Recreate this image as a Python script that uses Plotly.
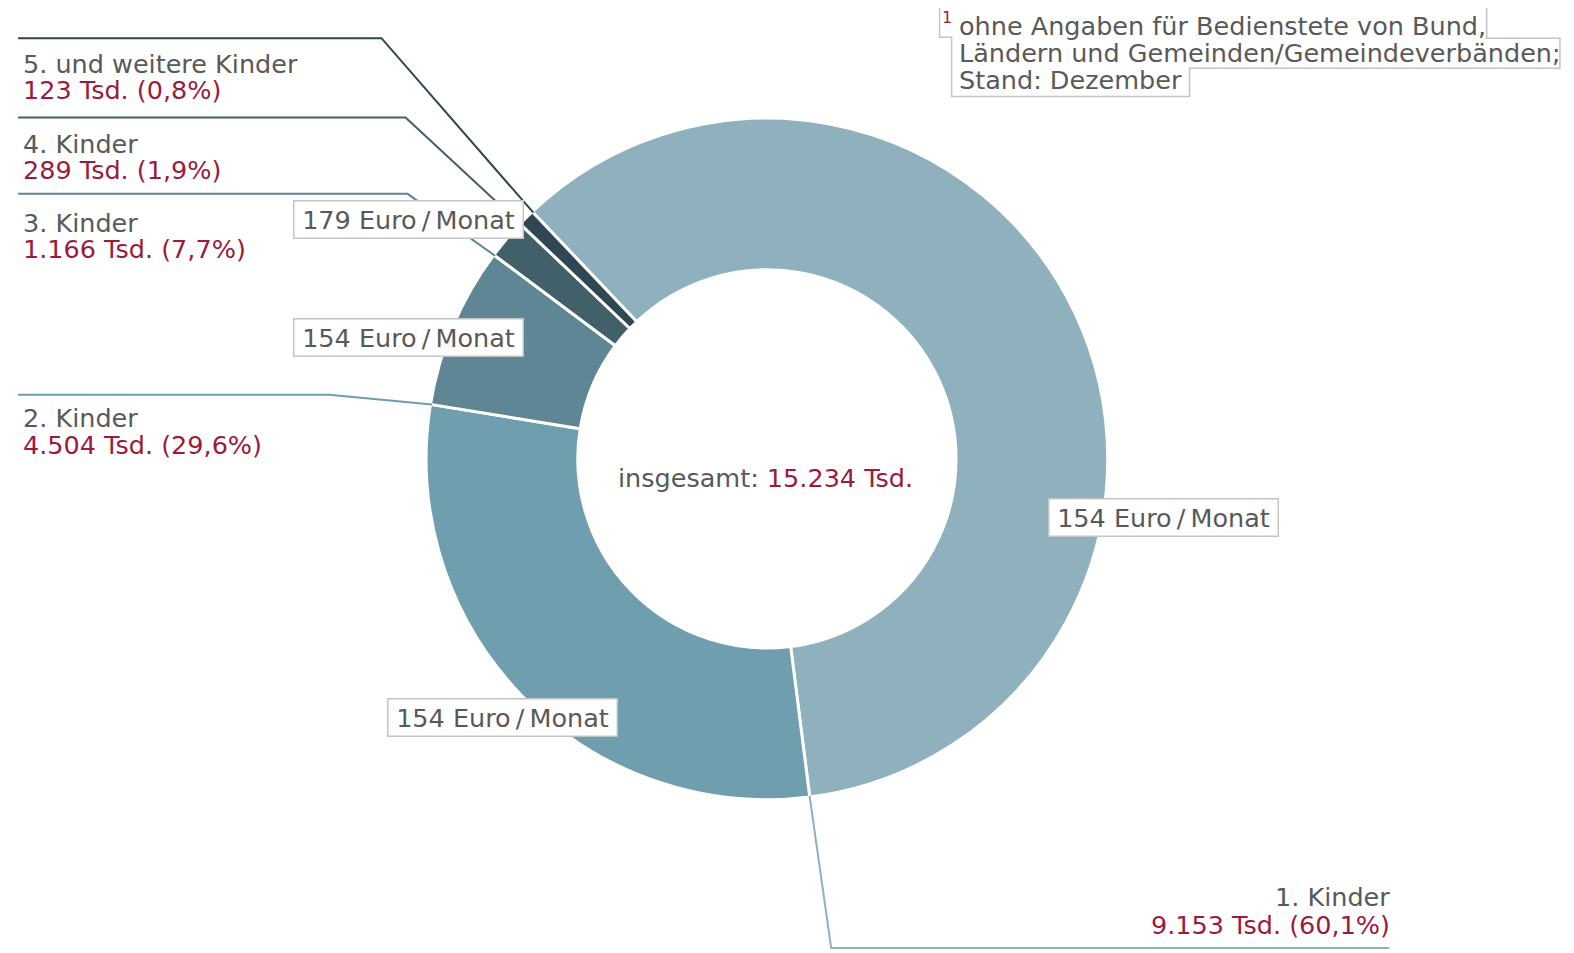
import math
import plotly.graph_objects as go

# ---------------- data ----------------
categories = ["1. Kinder", "2. Kinder", "3. Kinder", "4. Kinder", "5. und weitere Kinder"]
values_tsd = [9153, 4504, 1166, 289, 123]
value_labels = ["9.153 Tsd.", "4.504 Tsd.", "1.166 Tsd.", "289 Tsd.", "123 Tsd."]
share_labels = ["(60,1%)", "(29,6%)", "(7,7%)", "(1,9%)", "(0,8%)"]
payment_labels = ["154 Euro\u2009/\u2009Monat", "154 Euro\u2009/\u2009Monat",
                  "154 Euro\u2009/\u2009Monat", "179 Euro\u2009/\u2009Monat"]
total_label = "15.234 Tsd."
footnote_lines = ["ohne Angaben für Bedienstete von Bund,",
                  "Ländern und Gemeinden/Gemeindeverbänden;",
                  "Stand: Dezember"]

# ---------------- style ----------------
OFF = 8                      # page body margin
W, H = 1574 - OFF, 953 - OFF
SX, SY = 1574 / 1568, 953 / 949
colors = ["#8fb1bd", "#6f9eae", "#5f8694", "#426069", "#2e4752"]
GRAY = "#595959"
RED = "#9b1b3c"
FONT = "DejaVu Sans, sans-serif"
FS = 25.5
CX, CY, R = 764, 457, 338
HOLE = 0.555
ROT = -43.5


def px(x):
    return (x * SX - OFF) / W


def py(y):
    return 1 - (y * SY - OFF) / H


RD = R + 1.5
fig = go.Figure(go.Pie(
    labels=categories, values=values_tsd, sort=False, direction="clockwise",
    rotation=ROT, hole=HOLE, textinfo="none", hoverinfo="label+value",
    marker=dict(colors=colors, line=dict(color="white", width=3)),
    domain=dict(x=[px(CX - RD), px(CX + RD)], y=[py(CY + RD), py(CY - RD)]),
    showlegend=False,
))

shapes = []
annotations = []

# leader lines: start at each slice's clockwise end boundary on the outer rim
total = sum(values_tsd)
level_y = [944, 393, 193, 117, 38]
elbow_x = [828, 328, 406, 404, 380]
end_x = [1384, 18, 18, 18, 18]
cum = 0
for i, v in enumerate(values_tsd):
    cum += v
    th = math.radians(ROT + 360 * cum / total)
    s, c = math.sin(th), math.cos(th)
    x0, y0 = CX + R * s, CY - R * c
    path = (f"M {px(x0)} {py(y0)} L {px(elbow_x[i])} {py(level_y[i])} "
            f"L {px(end_x[i])} {py(level_y[i])}")
    shapes.append(dict(type="path", xref="paper", yref="paper", path=path,
                       line=dict(color=colors[i], width=2), layer="above"))

# category labels (two lines each)
label_pos = [  # (x, baseline1, baseline2, anchor)
    (1387, 902, 930, "right"),
    (21, 425, 452, "left"),
    (21, 231, 257, "left"),
    (21, 152, 178, "left"),
    (21, 73, 99, "left"),
]
DY = 9
for i, (lx, b1, b2, anc) in enumerate(label_pos):
    annotations.append(dict(x=px(lx), y=py(b1 - DY), xref="paper", yref="paper",
                            text=categories[i], showarrow=False, xanchor=anc, yanchor="middle",
                            font=dict(family=FONT, size=FS, color=GRAY)))
    annotations.append(dict(x=px(lx), y=py(b2 - DY), xref="paper", yref="paper",
                            text=f"{value_labels[i]} {share_labels[i]}", showarrow=False,
                            xanchor=anc, yanchor="middle",
                            font=dict(family=FONT, size=FS, color=RED)))

# payment boxes
box_centers = [(1159, 515), (501, 714), (407, 336), (407, 219)]
for (bx, by), txt in zip(box_centers, payment_labels):
    annotations.append(dict(x=px(bx), y=py(by), xref="paper", yref="paper", text=txt,
                            showarrow=False, xanchor="center", yanchor="middle",
                            bgcolor="white", bordercolor="#c4c4c4", borderwidth=1.5,
                            borderpad=1, width=226, height=34,
                            font=dict(family=FONT, size=FS, color=GRAY)))

# centre text
annotations.append(dict(x=px(763), y=py(476), xref="paper", yref="paper",
                        text=f"insgesamt: <span style='color:{RED}'>{total_label}</span>",
                        showarrow=False, xanchor="center", yanchor="middle",
                        font=dict(family=FONT, size=FS, color=GRAY)))

# footnote
fn_base = [35, 62, 89]
for txt, b in zip(footnote_lines, fn_base):
    annotations.append(dict(x=px(953), y=py(b - DY), xref="paper", yref="paper", text=txt,
                            showarrow=False, xanchor="left", yanchor="middle",
                            font=dict(family=FONT, size=FS, color=GRAY)))
annotations.append(dict(x=px(943), y=py(17), xref="paper", yref="paper", text="1",
                        showarrow=False, xanchor="center", yanchor="middle",
                        font=dict(family=FONT, size=16, color=RED)))
outline = [(936, 7), (1481, 7), (1481, 38), (1554, 38), (1554, 68), (1185, 68),
           (1185, 96), (948, 96), (948, 37), (936, 37)]
fpath = "M " + " L ".join(f"{px(x)} {py(y)}" for x, y in outline) + " Z"
shapes.append(dict(type="path", xref="paper", yref="paper", path=fpath,
                   line=dict(color="#c4c4c4", width=1.5)))

fig.update_layout(width=W, height=H, margin=dict(l=0, r=0, t=0, b=0),
                  paper_bgcolor="white", plot_bgcolor="white",
                  shapes=shapes, annotations=annotations)
fig.write_html("out.html")
